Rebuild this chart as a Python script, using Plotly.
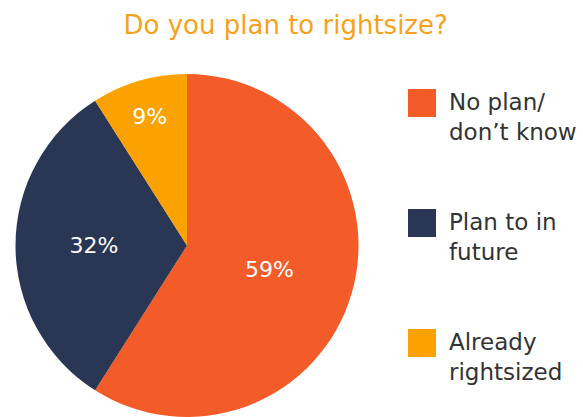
import plotly.graph_objects as go

# Survey answers and their shares (percent)
labels = ["No plan/<br>don’t know", "Plan to in<br>future", "Already<br>rightsized"]
values = [59, 32, 9]
colors = ["#F35B28", "#293654", "#FCA200"]

W, H = 583, 417
FONT = "DejaVu Sans"

fig = go.Figure(
    go.Pie(
        labels=labels,
        values=values,
        marker=dict(colors=colors, line=dict(width=0)),
        sort=False,
        direction="clockwise",
        rotation=0,
        texttemplate="%{percent:.0%}",
        textposition="inside",
        insidetextorientation="horizontal",
        textfont=dict(family=FONT, size=22, color="white"),
        domain=dict(x=[15.5 / W, 358.5 / W], y=[0, 343 / H]),
        showlegend=False,
        hoverinfo="label+percent",
    )
)

# Legend drawn as swatches with wrapped labels on the right
shapes, annotations = [], []
sw_x0, sw_x1 = 408 / W, 436 / W
for i, (lab, col) in enumerate(zip(labels, colors)):
    cy = 103 + 120 * i
    shapes.append(dict(type="rect", xref="paper", yref="paper",
                       x0=sw_x0, x1=sw_x1,
                       y0=1 - (cy + 14) / H, y1=1 - (cy - 14) / H,
                       fillcolor=col, line=dict(width=0)))
    annotations.append(dict(text=lab, xref="paper", yref="paper",
                            x=447 / W, y=1 - (cy - 16) / H,
                            xanchor="left", yanchor="top", align="left",
                            showarrow=False,
                            font=dict(family=FONT, size=23, color="#333333")))

fig.update_layout(
    width=W, height=H,
    margin=dict(l=0, r=0, t=0, b=0),
    paper_bgcolor="white",
    plot_bgcolor="white",
    title=dict(text="Do you plan to rightsize?", x=0.49, xanchor="center",
               y=1 - 25 / H, yanchor="middle",
               font=dict(family=FONT, size=26, color="#F9A11B")),
    shapes=shapes,
    annotations=annotations,
)

fig.write_html("out.html")
